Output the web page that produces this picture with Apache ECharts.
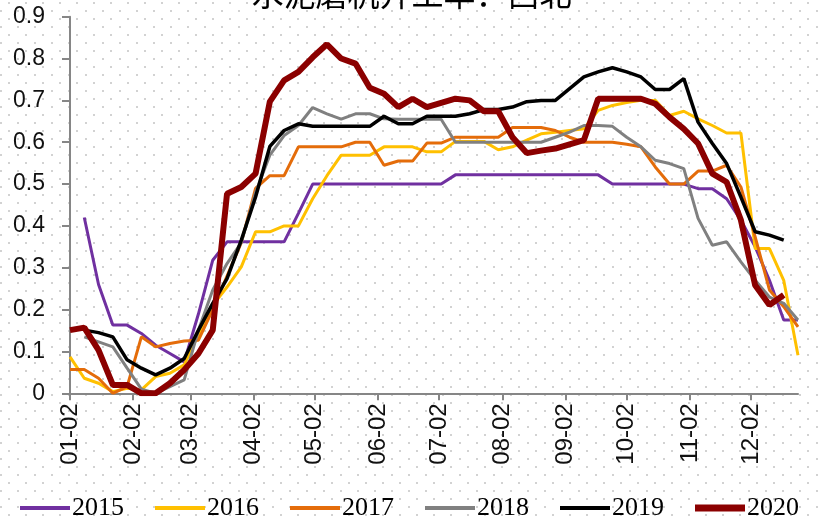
<!DOCTYPE html>
<html>
<head>
<meta charset="utf-8">
<script src="https://cdn.jsdelivr.net/npm/echarts@6/dist/echarts.min.js"></script>
<style>
  html, body {
    margin: 0;
    padding: 0;
    background-color: #fff;
    background-image: url("data:image/svg+xml;utf8,<svg xmlns='http://www.w3.org/2000/svg' width='17' height='16'><rect x='8' y='2' width='2' height='2' fill='%23d2d2d2'/><rect x='0' y='10' width='2' height='2' fill='%23d2d2d2'/></svg>");
  }
  #chart {
    width: 823px;
    height: 518px;
  }
</style>
</head>
<body>
<div id="chart"></div>
<script>
// 周度数据：每周一个点，从 01-02 起算（单位：天）
const weekCount = 52;
const monthTickDays = [0, 31, 59, 90, 120, 151, 181, 212, 243, 273, 304, 334];
const monthLabels = ["01-02", "02-02", "03-02", "04-02", "05-02", "06-02",
  "07-02", "08-02", "09-02", "10-02", "11-02", "12-02"];
const yTicks = [0, 0.1, 0.2, 0.3, 0.4, 0.5, 0.6, 0.7, 0.8, 0.9];
const years = ["2015", "2016", "2017", "2018", "2019", "2020"];

const s2015 = [null, 0.42, 0.26, 0.163, 0.163, 0.143, 0.115, 0.095, 0.075, 0.19,
  0.318, 0.362, 0.362, 0.362, 0.362, 0.362, 0.43, 0.50, 0.50, 0.50,
  0.50, 0.50, 0.50, 0.50, 0.50, 0.50, 0.50, 0.522, 0.522, 0.522,
  0.522, 0.522, 0.522, 0.522, 0.522, 0.522, 0.522, 0.522, 0.50, 0.50,
  0.50, 0.50, 0.50, 0.50, 0.489, 0.489, 0.465, 0.414, 0.35, 0.27,
  0.175, 0.175];
const s2016 = [0.087, 0.036, 0.024, 0.004, 0.012, 0.008, 0.04, 0.048, 0.068, 0.14,
  0.21, 0.254, 0.302, 0.386, 0.386, 0.40, 0.40, 0.465, 0.52, 0.569,
  0.569, 0.569, 0.589, 0.589, 0.589, 0.577, 0.577, 0.602, 0.602, 0.602,
  0.582, 0.589, 0.605, 0.62, 0.624, 0.628, 0.632, 0.676, 0.688, 0.695,
  0.70, 0.70, 0.664, 0.674, 0.656, 0.64, 0.622, 0.622, 0.346, 0.346,
  0.27, 0.091];
const s2017 = [0.057, 0.057, 0.036, 0.0, 0.016, 0.135, 0.111, 0.119, 0.125, 0.127,
  0.2, 0.28, 0.36, 0.49, 0.52, 0.52, 0.589, 0.589, 0.589, 0.589,
  0.60, 0.60, 0.545, 0.555, 0.555, 0.598, 0.598, 0.612, 0.612, 0.612,
  0.612, 0.635, 0.635, 0.635, 0.628, 0.612, 0.60, 0.60, 0.60, 0.595,
  0.589, 0.541, 0.50, 0.50, 0.531, 0.531, 0.545, 0.493, 0.374, 0.247,
  0.207, 0.159];
const s2018 = [null, 0.135, 0.123, 0.111, 0.06, 0.01, 0.0, 0.016, 0.032, 0.151,
  0.247, 0.31, 0.36, 0.48, 0.569, 0.616, 0.64, 0.683, 0.668, 0.655,
  0.668, 0.668, 0.656, 0.655, 0.655, 0.655, 0.655, 0.60, 0.60, 0.60,
  0.60, 0.60, 0.60, 0.60, 0.612, 0.624, 0.64, 0.64, 0.638, 0.612,
  0.589, 0.557, 0.549, 0.537, 0.418, 0.354, 0.362, 0.314, 0.27, 0.23,
  0.215, 0.175];
const s2019 = [null, 0.151, 0.145, 0.135, 0.08, 0.06, 0.044, 0.06, 0.083, 0.151,
  0.215, 0.274, 0.366, 0.469, 0.59, 0.628, 0.644, 0.638, 0.638, 0.638,
  0.638, 0.638, 0.662, 0.644, 0.644, 0.662, 0.662, 0.662, 0.668, 0.678,
  0.678, 0.684, 0.697, 0.70, 0.70, 0.728, 0.756, 0.768, 0.778, 0.768,
  0.756, 0.726, 0.726, 0.752, 0.648, 0.597, 0.549, 0.469, 0.386, 0.378,
  0.366, null];
const s2020 = [0.151, 0.157, 0.103, 0.02, 0.02, 0.0, 0.0, 0.024, 0.056, 0.095,
  0.151, 0.477, 0.493, 0.525, 0.697, 0.748, 0.768, 0.803, 0.834, 0.80,
  0.788, 0.73, 0.716, 0.684, 0.704, 0.684, 0.694, 0.704, 0.70, 0.674,
  0.674, 0.612, 0.574, 0.58, 0.585, 0.595, 0.605, 0.704, 0.704, 0.704,
  0.704, 0.692, 0.66, 0.632, 0.597, 0.525, 0.505, 0.414, 0.258, 0.211,
  0.235, null];

const seriesValues = [s2015, s2016, s2017, s2018, s2019, s2020];
const colors = ["#7030a0", "#ffc000", "#e46c0a", "#808080", "#000000", "#8b0000"];
const widths = [3, 3, 3, 3, 3.5, 6];

// 每周一点，x 为距 01-02 的天数
function toPairs(list) {
  return list.map((v, i) => [i * 7, v]);
}

// 图例只画一段线
function legendIcon(w) {
  return "path://M0,0 L50,0 L50," + w + " L0," + w + " Z";
}

const chart = echarts.init(document.getElementById("chart"));

const option = {
  animation: false,
  backgroundColor: "transparent",
  color: colors,
  graphic: [
    {
      type: "text",
      x: 411.5,
      y: -22,
      style: {
        text: "水泥磨机开工率：西北",
        font: '32px "Noto Sans CJK SC"',
        fill: "#000",
        align: "center",
        verticalAlign: "top",
      },
    },
  ],
  grid: {
    left: 70,
    right: 25,
    top: 16.7,
    bottom: 124.7,
    containLabel: false,
    outerBoundsMode: "none",
  },
  legend: {
    left: 15,
    top: 490,
    itemWidth: 50,
    itemHeight: 14,
    itemGap: 31,
    symbolKeepAspect: true,
    textStyle: {
      fontFamily: "Liberation Serif",
      fontSize: 26,
      color: "#000",
      padding: [0, 0, 0, -3],
    },
    data: years.map((name, k) => ({
      name: name,
      icon: legendIcon(k === 5 ? 7 : 4),
    })),
  },
  xAxis: {
    type: "value",
    min: 0,
    max: (weekCount - 1) * 7,
    axisLine: { show: true, lineStyle: { color: "#868686", width: 2 } },
    axisTick: {
      show: true,
      customValues: monthTickDays,
      length: 7,
      lineStyle: { color: "#868686", width: 2 },
    },
    axisLabel: {
      customValues: monthTickDays,
      rotate: 90,
      margin: 10,
      fontFamily: "Liberation Sans",
      fontSize: 24,
      color: "#111",
      formatter: (val) => monthLabels[monthTickDays.indexOf(val)] || "",
    },
    splitLine: { show: false },
  },
  yAxis: {
    type: "value",
    min: 0,
    max: 0.9,
    interval: 0.1,
    axisLine: { show: true, lineStyle: { color: "#868686", width: 2 } },
    axisTick: {
      show: true,
      length: 8,
      lineStyle: { color: "#868686", width: 2 },
    },
    axisLabel: {
      margin: 25,
      fontFamily: "Liberation Sans",
      fontSize: 23,
      color: "#111",
      formatter: (val) => {
        const t = yTicks.find((y) => Math.abs(y - val) < 1e-6);
        return t === 0 ? "0" : (t !== undefined ? t.toFixed(1) : "");
      },
    },
    splitLine: { show: false },
  },
  series: years.map((name, k) => ({
    name: name,
    type: "line",
    symbol: "none",
    data: toPairs(seriesValues[k]),
    lineStyle: { width: widths[k], color: colors[k] },
    itemStyle: { color: colors[k] },
    z: 2 + k,
  })),
};

chart.setOption(option);
</script>
</body>
</html>
